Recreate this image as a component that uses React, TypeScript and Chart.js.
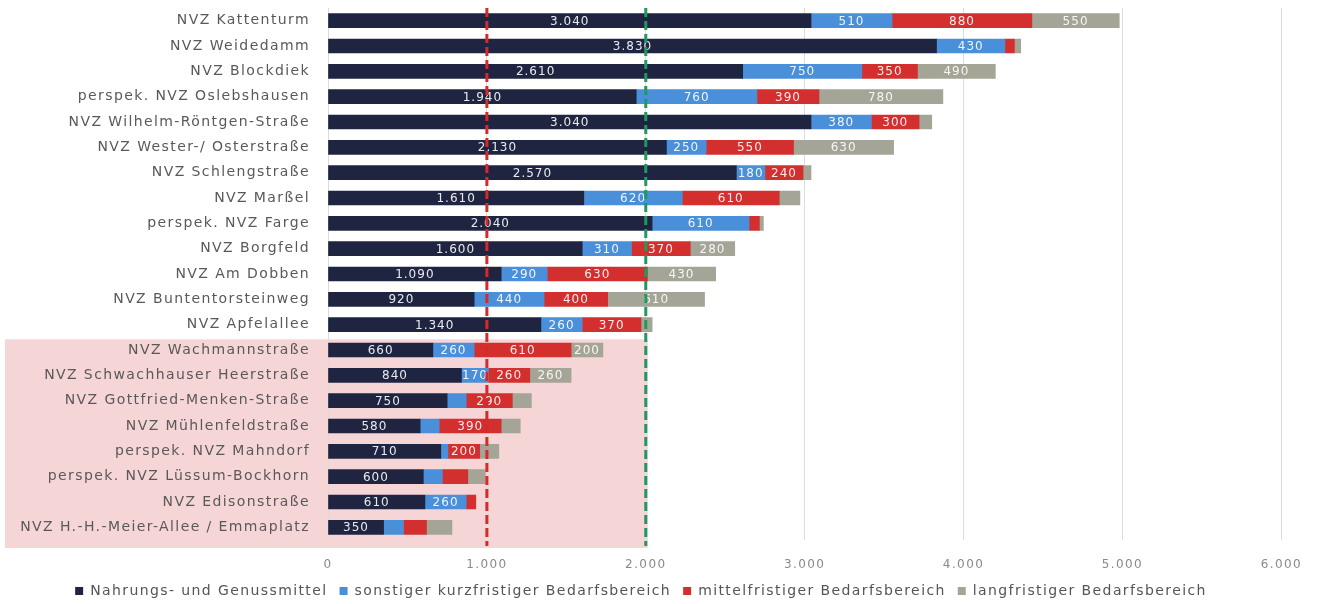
import React, { useEffect, useRef } from "react";
import { Chart, registerables } from "chart.js";

Chart.register(...registerables);

const categories = [
  "NVZ Kattenturm",
  "NVZ Weidedamm",
  "NVZ Blockdiek",
  "perspek. NVZ Oslebshausen",
  "NVZ Wilhelm-Röntgen-Straße",
  "NVZ Wester-/ Osterstraße",
  "NVZ Schlengstraße",
  "NVZ Marßel",
  "perspek. NVZ Farge",
  "NVZ Borgfeld",
  "NVZ Am Dobben",
  "NVZ Buntentorsteinweg",
  "NVZ Apfelallee",
  "NVZ Wachmannstraße",
  "NVZ Schwachhauser Heerstraße",
  "NVZ Gottfried-Menken-Straße",
  "NVZ Mühlenfeldstraße",
  "perspek. NVZ Mahndorf",
  "perspek. NVZ Lüssum-Bockhorn",
  "NVZ Edisonstraße",
  "NVZ H.-H.-Meier-Allee / Emmaplatz",
];

const food = [3040, 3830, 2610, 1940, 3040, 2130, 2570, 1610, 2040, 1600, 1090, 920, 1340, 660, 840, 750, 580, 710, 600, 610, 350];
const shortTerm = [510, 430, 750, 760, 380, 250, 180, 620, 610, 310, 290, 440, 260, 260, 170, 120, 120, 45, 120, 260, 125];
const midTerm = [880, 60, 350, 390, 300, 550, 240, 610, 65, 370, 630, 400, 370, 610, 260, 290, 390, 200, 160, 60, 145];
const longTerm = [550, 40, 490, 780, 80, 630, 50, 130, 25, 280, 430, 610, 70, 200, 260, 120, 120, 120, 110, 0, 160];

const seriesNames = [
  "Nahrungs- und Genussmittel",
  "sonstiger kurzfristiger Bedarfsbereich",
  "mittelfristiger Bedarfsbereich",
  "langfristiger Bedarfsbereich",
];
const seriesColors = ["#1f2540", "#4a8fd9", "#d32f2f", "#a4a497"];

const xMin = 0;
const xMax = 6000;
const xStep = 1000;
const refLines = [1000, 2000];
const refColors = ["#d42a2a", "#1f9a5e"];
const highlightFrom = "NVZ Wachmannstraße";
const highlightTo = 2000;
const labelMin = 165;

const FONT = "'DejaVu Sans', 'Open Sans', sans-serif";
const SPACING = "1.4px";

function fmt(v: number): string {
  return String(v).replace(/\B(?=(\d{3})+(?!\d))/g, ".");
}

function setSpacing(chart: any) {
  if (chart && chart.ctx) (chart.ctx as any).letterSpacing = SPACING;
}

const overlayPlugin = {
  id: "overlay",
  beforeInit(chart: any) {
    setSpacing(chart);
  },
  beforeUpdate(chart: any) {
    setSpacing(chart);
  },
  beforeLayout(chart: any) {
    setSpacing(chart);
  },
  beforeDraw(chart: any) {
    setSpacing(chart);
    const { ctx, scales, chartArea } = chart;
    const x = scales.x;
    const y = scales.y;
    const idx = categories.indexOf(highlightFrom);
    const top = y.getPixelForValue(idx - 0.5) + 2;
    const right = x.getPixelForValue(highlightTo) + 2;
    ctx.save();
    ctx.fillStyle = "#f6d5d7";
    ctx.fillRect(5, top, right - 5, chartArea.bottom + 8 - top);
    ctx.restore();
  },
  afterDatasetsDraw(chart: any) {
    const { ctx, scales, chartArea } = chart;
    ctx.save();
    ctx.font = `12px ${FONT}`;
    (ctx as any).letterSpacing = "1px";
    ctx.textAlign = "center";
    ctx.textBaseline = "middle";
    ctx.fillStyle = "rgba(255,255,255,0.9)";
    chart.data.datasets.forEach((ds: any, i: number) => {
      const meta = chart.getDatasetMeta(i);
      meta.data.forEach((bar: any, j: number) => {
        const v = ds.data[j];
        if (v < labelMin) return;
        const cx = (bar.x + bar.base) / 2;
        ctx.fillText(fmt(v), cx, bar.y + 1);
      });
    });
    ctx.restore();

    ctx.save();
    ctx.lineWidth = 3;
    ctx.setLineDash([9, 4]);
    refLines.forEach((v, k) => {
      const px = scales.x.getPixelForValue(v);
      ctx.strokeStyle = refColors[k];
      ctx.beginPath();
      ctx.moveTo(px, chartArea.top);
      ctx.lineTo(px, chartArea.bottom + 6);
      ctx.stroke();
    });
    ctx.restore();
  },
};

export default function App() {
  const ref = useRef<HTMLCanvasElement | null>(null);

  useEffect(() => {
    if (!ref.current) return;
    const series = [food, shortTerm, midTerm, longTerm];
    const chart = new Chart(ref.current, {
      type: "bar",
      data: {
        labels: categories,
        datasets: series.map((d, i) => ({
          label: seriesNames[i],
          data: d,
          backgroundColor: seriesColors[i],
          borderWidth: 0,
          barThickness: 14,
        })),
      },
      options: {
        indexAxis: "y",
        animation: false,
        responsive: false,
        maintainAspectRatio: false,
        layout: { padding: { top: 8, right: 38, bottom: -4, left: 0 } },
        scales: {
          x: {
            stacked: true,
            min: xMin,
            max: xMax,
            border: { display: false },
            grid: { color: "#dcdcdc", lineWidth: 1, drawTicks: false },
            afterFit: (s: any) => {
              s.height = 32;
            },
            ticks: {
              stepSize: xStep,
              padding: 18,
              color: "#8a8a8a",
              font: { family: FONT, size: 12 },
              callback: (v: any) => fmt(Number(v)),
            },
          },
          y: {
            stacked: true,
            border: { display: false },
            grid: { display: false, drawTicks: false },
            afterFit: (s: any) => {
              s.width = 328;
              s.paddingTop = 0;
              s.paddingBottom = 0;
            },
            ticks: {
              padding: 18,
              color: "#595959",
              font: { family: FONT, size: 14 },
              autoSkip: false,
            },
          },
        },
        plugins: {
          legend: {
            position: "bottom",
            labels: {
              boxWidth: 8,
              boxHeight: 8,
              padding: 12,
              color: "#555555",
              font: { family: FONT, size: 14 },
            },
          },
          tooltip: { enabled: false },
        },
      },
      plugins: [overlayPlugin],
    } as any);
    return () => chart.destroy();
  }, []);

  return (
    <div style={{ position: "absolute", left: 0, top: 0, width: 1320, height: 604, background: "#fff" }}>
      <canvas ref={ref} width={1320} height={604} style={{ width: 1320, height: 604, display: "block" }} />
    </div>
  );
}
